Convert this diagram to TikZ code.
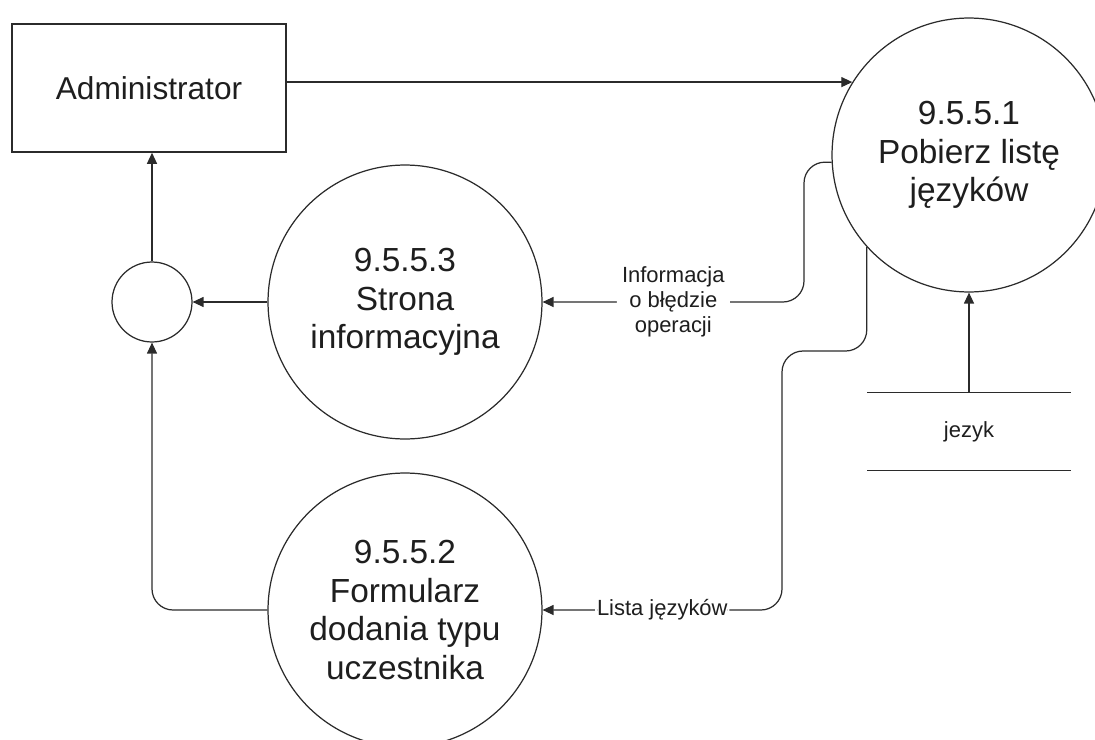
\documentclass[tikz,border=0pt]{standalone}
\usepackage{fontspec}
\setmainfont{Liberation Sans}
\usetikzlibrary{arrows.meta, positioning, calc}
\definecolor{dfdLine}{HTML}{2B2B2B}
\definecolor{dfdText}{HTML}{1E1E1E}

\begin{document}
\begin{tikzpicture}[
  x=0.02cm, y=-0.02cm,
  every node/.style={text=dfdText},
  process/.style={
    draw=dfdLine, line width=0.7pt, circle, minimum size=5.48cm,
    inner sep=0pt, align=center, font=\fontsize{19}{22}\selectfont
  },
  junction/.style={
    draw=dfdLine, line width=0.7pt, circle, minimum size=1.6cm, inner sep=0pt
  },
  entity/.style={
    draw=dfdLine, line width=0.9pt, rectangle,
    minimum width=5.48cm, minimum height=2.56cm,
    font=\fontsize{18}{22}\selectfont
  },
  datastore/.style={
    minimum width=4.06cm, minimum height=1.54cm, inner sep=0pt,
    font=\fontsize{12.5}{14}\selectfont
  },
  flow/.style={-{Triangle[length=2.2mm, width=2mm]}, line width=0.7pt, draw=dfdLine},
  flowlabel/.style={
    font=\fontsize{12.5}{14.2}\selectfont, fill=white, align=center, inner sep=1pt
  }
]
\useasboundingbox (0,0) rectangle (1095,740);

\node[entity] (admin) at (149,88) {Administrator};
\node[process] (p1) at (969,155) {9.5.5.1\\Pobierz listę\\języków};
\node[process] (p3) at (405,302) {9.5.5.3\\Strona\\informacyjna};
\node[process] (p2) at (405,610) {9.5.5.2\\Formularz\\dodania typu\\uczestnika};
\node[junction] (junc) at (152,302) {};
\node[datastore] (store) at (969,431.5) {jezyk};

\coordinate (ibend) at (804,162);
\coordinate (lbend) at (782,351);

% data store
\draw[dfdLine, line width=0.9pt] (store.north west) -- (store.north east)
  (store.south west) -- (store.south east);

% main flow
\draw[flow] (admin.east |- p1.148) -- (p1.148);
\draw[flow] (store.north) -- (p1.south);
\draw[flow] (junc.north) -- (junc.north |- admin.south);
\draw[flow] (p3) -- (junc);
\draw[flow, rounded corners=12pt] (p2.west) -| (junc.south);

% results of 9.5.5.1
\draw[flow, rounded corners=12pt] (p1.183) -- (ibend)
  |- node[flowlabel, pos=0.75, inner xsep=3pt]{Informacja\\o błędzie\\operacji} (p3.east);
\draw[flow, rounded corners=12pt] (p1.222.6) |- (lbend)
  |- node[flowlabel, pos=0.75]{Lista języków} (p2.east);

\end{tikzpicture}
\end{document}
